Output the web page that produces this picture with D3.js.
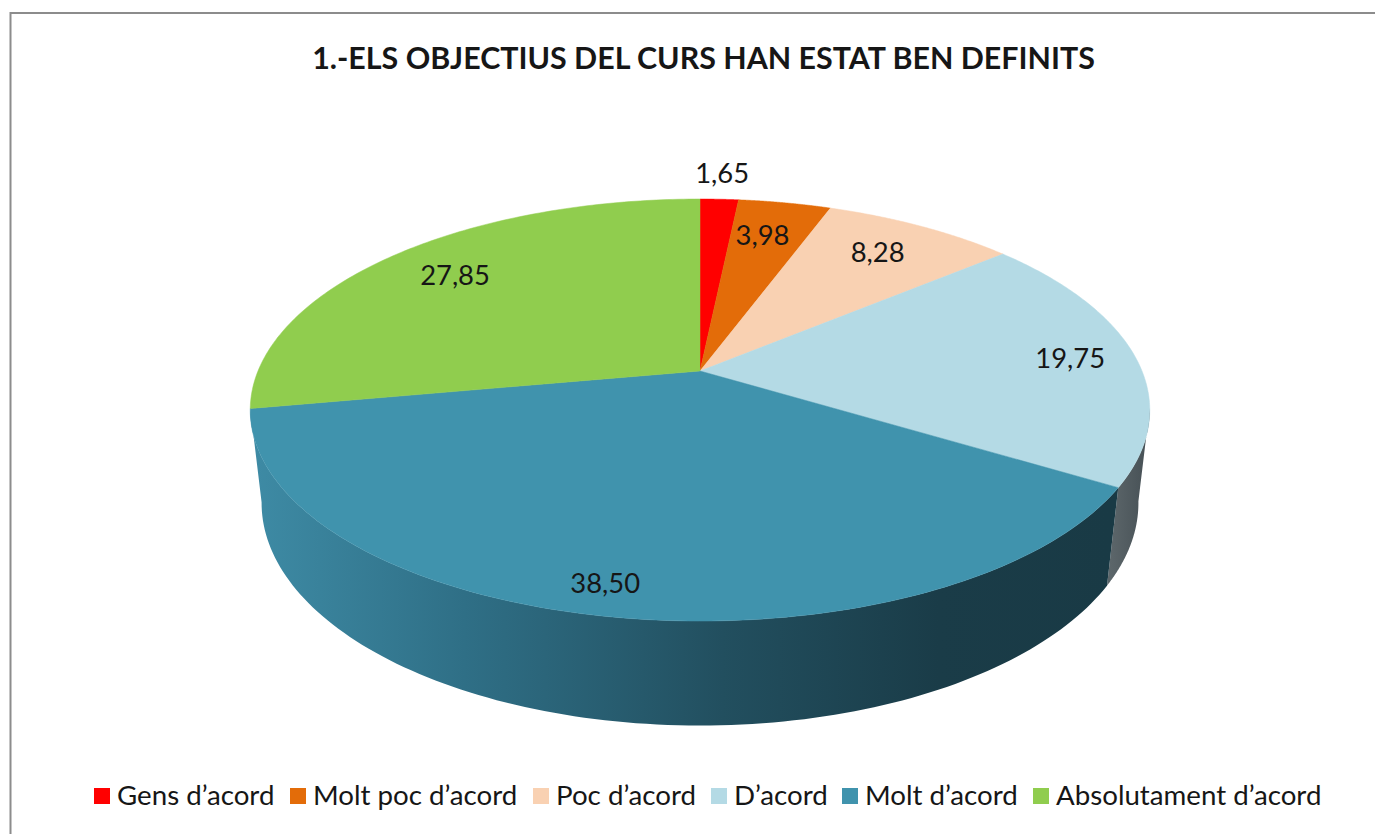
<!DOCTYPE html>
<html>
<head>
<meta charset="utf-8">
<script src="https://cdn.jsdelivr.net/npm/d3@7"></script>
<style>
  html, body { margin: 0; padding: 0; background: #fff; }
  svg { display: block; }
  text { font-family: Lato, "Open Sans", sans-serif; fill: #161616; }
</style>
</head>
<body>
<svg width="1375" height="834"></svg>
<script>
var categories = ["Gens d\u2019acord", "Molt poc d\u2019acord", "Poc d\u2019acord", "D\u2019acord", "Molt d\u2019acord", "Absolutament d\u2019acord"];
var values = [1.65, 3.98, 8.28, 19.75, 38.50, 27.85];
var valueLabels = ["1,65", "3,98", "8,28", "19,75", "38,50", "27,85"];
var colors = ["#ff0000", "#e36c09", "#f9d1b2", "#b4dae5", "#4093ad", "#90cd4e"];
var chartTitle = "1.-ELS OBJECTIUS DEL CURS HAN ESTAT BEN DEFINITS";

// where the label sits along the slice middle, 1 = rim
var labelRadius = [1.18, 0.78, 0.80, 0.85, 0.887, 0.804];
var labelShiftX = [0, -6, -4, 0, -10, 4];
var legendSwatchX = [94, 290, 533, 711, 842, 1033];

var svg = d3.select("svg");

svg.append("path")
    .attr("d", "M10.5,834V13H1375")
    .attr("fill", "none")
    .attr("stroke", "#8c8c8c")
    .attr("stroke-width", 2);

svg.append("text")
    .attr("x", 703.5)
    .attr("y", 69)
    .attr("text-anchor", "middle")
    .style("font-size", "30.4px")
    .style("font-weight", 700)
    .text(chartTitle);

// perspective disc: t = 0 top face, t = 1 bottom face
var cx = 700, cy = 371, rx = 442, ry = 203.8, tilt = 0.185, depth = 94, shrink = 0.025;

function project(a, r, t) {
  var w = 1 + tilt * r * Math.cos(a) + shrink * t;
  return [cx + rx * r * Math.sin(a) / w, cy + (-ry * r * Math.cos(a) + depth * t) / w];
}

var pie = d3.pie().sort(null).value(function(d) { return d; });
var arcs = pie(values);

function rim(a0, a1, t) {
  return d3.range(0, 121).map(function(i) {
    return project(a0 + (a1 - a0) * i / 120, 1, t);
  });
}

var line = d3.line();

// side wall colours run from left to right
var defs = svg.append("defs");
var grad = defs.append("linearGradient")
    .attr("id", "wall")
    .attr("gradientUnits", "userSpaceOnUse")
    .attr("x1", 250).attr("x2", 1110)
    .attr("y1", 0).attr("y2", 0);
grad.append("stop").attr("offset", "0").attr("stop-color", "#3e8ba5");
grad.append("stop").attr("offset", "0.25").attr("stop-color", "#2f6f86");
grad.append("stop").attr("offset", "0.55").attr("stop-color", "#224f5f");
grad.append("stop").attr("offset", "0.8").attr("stop-color", "#1a3c48");
grad.append("stop").attr("offset", "1").attr("stop-color", "#193a45");

var greyGrad = defs.append("linearGradient")
    .attr("id", "wallGrey")
    .attr("gradientUnits", "userSpaceOnUse")
    .attr("x1", 1105).attr("x2", 1150)
    .attr("y1", 0).attr("y2", 0);
greyGrad.append("stop").attr("offset", "0").attr("stop-color", "#5f696d");
greyGrad.append("stop").attr("offset", "1").attr("stop-color", "#454f54");

var frontStart = 100 * Math.PI / 180, frontEnd = 260 * Math.PI / 180;

// only the slices that face us get a wall
[3, 4].forEach(function(i) {
  var a0 = Math.max(arcs[i].startAngle, frontStart),
      a1 = Math.min(arcs[i].endAngle, frontEnd);
  var pts = rim(a0, a1, 0).concat(rim(a0, a1, 1).reverse());
  svg.append("path")
      .attr("d", line(pts) + "Z")
      .attr("fill", i === 3 ? "url(#wallGrey)" : "url(#wall)");
});

svg.selectAll(".slice")
    .data(arcs)
  .enter().append("path")
    .attr("class", "slice")
    .attr("d", function(d) {
      return line([[cx, cy]].concat(rim(d.startAngle, d.endAngle, 0))) + "Z";
    })
    .attr("fill", function(d, i) { return colors[i]; })
    .attr("stroke", function(d, i) { return colors[i]; })
    .attr("stroke-width", 0.5);

svg.selectAll(".value")
    .data(arcs)
  .enter().append("text")
    .attr("class", "value")
    .attr("text-anchor", "middle")
    .attr("dy", "0.35em")
    .style("font-size", "27.4px")
    .attr("x", function(d, i) {
      return project((d.startAngle + d.endAngle) / 2, labelRadius[i], 0)[0] + labelShiftX[i];
    })
    .attr("y", function(d, i) {
      return project((d.startAngle + d.endAngle) / 2, labelRadius[i], 0)[1];
    })
    .text(function(d, i) { return valueLabels[i]; });

var legend = svg.selectAll(".legend")
    .data(categories)
  .enter().append("g")
    .attr("class", "legend")
    .attr("transform", function(d, i) { return "translate(" + legendSwatchX[i] + ",788)"; });

legend.append("rect")
    .attr("width", 16)
    .attr("height", 16)
    .attr("fill", function(d, i) { return colors[i]; });

legend.append("text")
    .attr("x", 23)
    .attr("y", 17)
    .style("font-size", "27.7px")
    .text(function(d) { return d; });
</script>
</body>
</html>
